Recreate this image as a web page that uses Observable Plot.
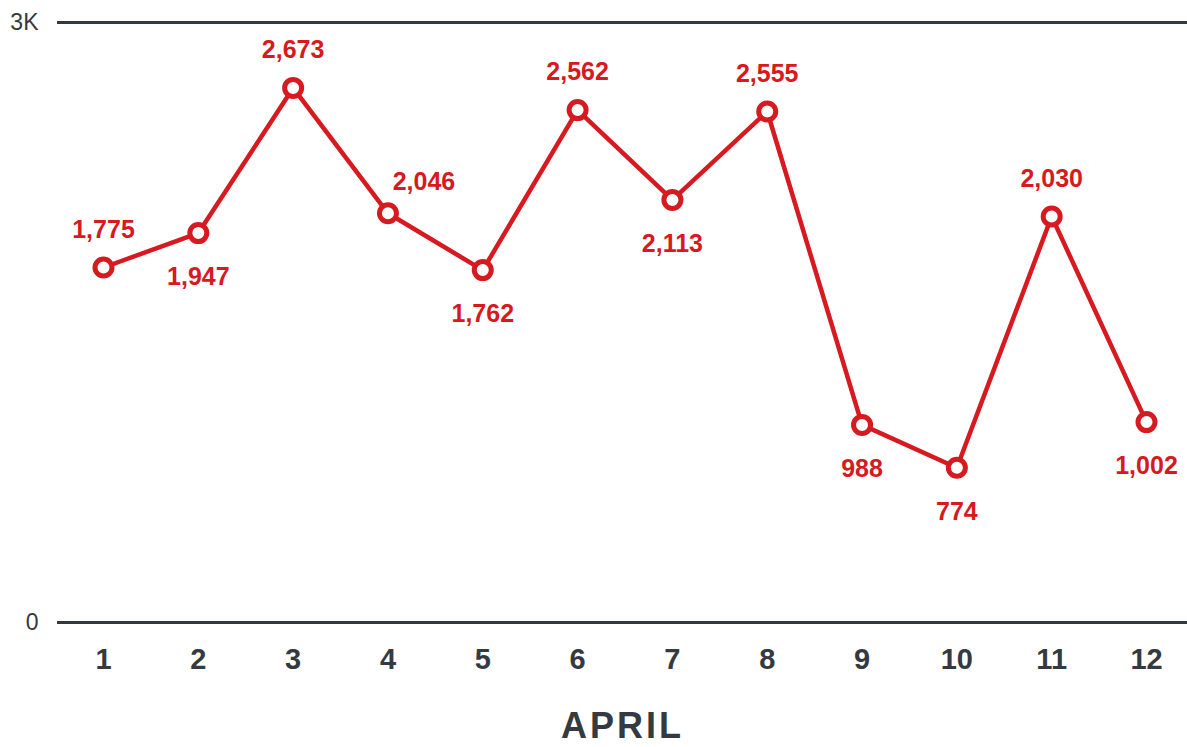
<!DOCTYPE html>
<html>
<head>
<meta charset="utf-8">
<script src="https://cdn.jsdelivr.net/npm/d3@7"></script>
<script src="https://cdn.jsdelivr.net/npm/@observablehq/plot@0.6"></script>
<style>
  html, body { margin: 0; padding: 0; background: #fff; }
  #chart svg { display: block; }
  .xtitle text { letter-spacing: 3px; }
</style>
</head>
<body>
<div id="chart"></div>
<script>
const days = [1, 2, 3, 4, 5, 6, 7, 8, 9, 10, 11, 12];
const values = [1775, 1947, 2673, 2046, 1762, 2562, 2113, 2555, 988, 774, 2030, 1002];
const labelPlacement = ["above", "below", "above", "above-right", "below", "above", "below", "above", "below", "below", "above", "below"];
const yTicks = [0, 3000];
const yTickLabels = ["0", "3K"];
const xTitle = "APRIL";

const red = "#d71920";
const ink = "#343a40";
const font = "'Liberation Sans', Arial, Helvetica, sans-serif";

const data = days.map((d, i) => ({day: d, value: values[i], place: labelPlacement[i]}));
const offsets = {
  "above": {dx: 0, dy: -38},
  "below": {dx: 0, dy: 44},
  "above-right": {dx: 36, dy: -31}
};

const labelMarks = Object.keys(offsets).map(p =>
  Plot.text(data.filter(d => d.place === p), {
    x: "day", y: "value",
    text: d => d3.format(",")(d.value),
    dx: offsets[p].dx, dy: offsets[p].dy,
    fill: red, fontSize: 25, fontWeight: "bold", fontFamily: font
  })
);

const chart = Plot.plot({
  width: 1187,
  height: 747,
  marginTop: 22,
  marginBottom: 125,
  marginLeft: 57,
  marginRight: 0,
  style: {background: "#fff", fontFamily: font},
  x: {domain: [1, 12], insetLeft: 46, insetRight: 41},
  y: {domain: [0, 3000]},
  marks: [
    Plot.ruleY(yTicks, {stroke: ink, strokeWidth: 3}),
    Plot.axisY(yTicks, {
      tickSize: 0, tickPadding: 19, label: null,
      tickFormat: (d) => yTickLabels[yTicks.indexOf(d)],
      fontSize: 23, fill: ink, fontFamily: font
    }),
    Plot.axisX(days, {
      tickSize: 0, tickPadding: 26, label: null,
      tickFormat: d => String(d),
      fontSize: 29, fontWeight: "bold", fill: ink, fontFamily: font
    }),
    Plot.text([xTitle], {
      frameAnchor: "bottom", dy: 104, lineAnchor: "middle",
      fontSize: 36, fontWeight: "bold", fill: ink, fontFamily: font,
      className: "xtitle"
    }),
    Plot.line(data, {x: "day", y: "value", stroke: red, strokeWidth: 4.5}),
    Plot.dot(data, {x: "day", y: "value", r: 8.5, fill: "#fff", stroke: red, strokeWidth: 5}),
    ...labelMarks
  ]
});
document.getElementById("chart").appendChild(chart);
</script>
</body>
</html>
